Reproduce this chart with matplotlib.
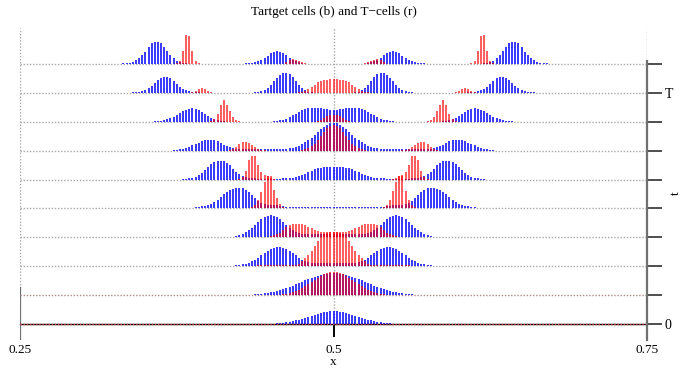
import numpy as np
import matplotlib.pyplot as plt

plt.rcParams['font.family'] = 'serif'
plt.rcParams['font.serif'] = ['Liberation Serif', 'DejaVu Serif']

# stems sit on a regular grid in x
grid_start = 0.33
grid_step = 0.0025
n_grid = 137

# target cells (blue), one list per time row, bottom (t=0) to top
b0 = [0] * 48 + [0.4, 0.5, 0.7, 1, 1.3, 1.8, 2.3, 2.9, 3.6, 4.4, 5.3, 6.3, 7.4, 8.4, 9.4, 10.4, 11.3, 12, 12.5, 12.9, 13,
                 12.9, 12.5, 12, 11.3, 10.4, 9.4, 8.4, 7.4, 6.3, 5.3, 4.4, 3.6, 2.9, 2.3, 1.8, 1.3, 1, 0.7, 0.5, 0.4]
b1 = [0] * 43 + [1.0, 1.2, 1.6, 2.0, 2.4, 3.0, 3.6, 4.4, 5.2, 6.1, 7.2, 8.3, 9.5, 10.7, 12.0, 13.4, 14.7, 16.0, 17.2,
                 18.4, 19.4, 20.3, 21.0, 21.6, 21.9, 22, 21.9, 21.6, 21.0, 20.3, 19.4, 18.4, 17.2, 16.0, 14.7, 13.4,
                 12.0, 10.7, 9.5, 8.3, 7.2, 6.1, 5.2, 4.4, 3.6, 3.0, 2.4, 2.0, 1.6, 1.2, 1.0]
b2 = [0] * 36 + [0.5, 1, 1.3, 2, 2.5, 3.5, 5, 6.5, 8.5, 11, 13, 15, 17, 18, 19, 19, 18.5, 17, 15.5, 13, 11, 8.5, 6.5, 5,
                 4, 3.5, 3.5, 3.5, 3.5, 3.5, 3.5, 3.5, 3.5, 3.5, 3.5, 3.5, 3.5, 3.5, 3.5, 3.5, 4, 5, 6.5, 8.5, 11, 13,
                 15.5, 17, 18.5, 19, 19, 18, 17, 15, 13, 11, 8.5, 6.5, 5, 3.5, 2.5, 2, 1.3, 1, 0.5]
b3 = [0] * 36 + [0.8, 1.4, 2.3, 3.5, 5.2, 7.3, 9.8, 12.6, 15.4, 18, 20.1, 21.5, 22, 21.5, 20.1, 18, 15.4, 12.6, 9.8,
                 7.3, 5.4, 4, 3.3, 3, 3, 3, 3, 3, 3, 3, 3, 3, 3, 3, 3, 3, 3, 3, 3, 3, 3, 3, 3.3, 4, 5.4, 7.3, 9.8,
                 12.6, 15.4, 18, 20.1, 21.5, 22, 21.5, 20.1, 18, 15.4, 12.6, 9.8, 7.3, 5.2, 3.5, 2.3, 1.4, 0.8]
b4 = [0] * 22 + [0.5, 0.8, 1, 1.5, 2, 2.5, 3.2, 4.5, 6, 8.5, 11, 14, 16.5, 18, 19, 20, 20.5, 20, 18.5, 16, 13, 10, 7,
                 5, 4, 3.5, 3, 3, 3, 2.5, 2, 1.5, 1, 1, 1, 1, 1, 1, 1, 1, 1, 1, 1, 1, 1, 1, 1, 1, 1, 1, 1, 1, 1, 1, 1,
                 1, 1, 1, 1, 1, 1, 1, 1.5, 2, 2.5, 3, 3, 3, 3.5, 4, 5, 7, 10, 13, 16, 18.5, 20, 20.5, 20, 19, 18, 16.5,
                 14, 11, 8.5, 6, 4.5, 3.2, 2.5, 2, 1.5, 1, 0.8, 0.5]
b5 = [0] * 20 + [0.5, 1, 1.5, 2, 3, 4.5, 7, 9.5, 12.5, 15.5, 17.5, 18.5, 19, 18.5, 17, 14.5, 11, 8, 5.5, 3.5, 2.5, 2,
                 1.5, 1.2, 1, 1, 1, 1, 1, 1, 1, 1, 1.2, 1.2, 1.5, 2, 2.6, 3.5, 4.6, 6, 7.5, 9, 10.3, 11.3, 12, 12.5,
                 12.8, 13, 13, 13, 12.8, 12.5, 12, 11.3, 10.3, 9, 7.5, 6, 4.6, 3.5, 2.6, 2, 1.5, 1.2, 1.2, 1, 1, 1, 1,
                 1, 1, 1, 1, 1.2, 1.5, 2, 2.5, 3.5, 5.5, 8, 11, 14.5, 17, 18.5, 19, 18.5, 17.5, 15.5, 12.5, 9.5, 7,
                 4.5, 3, 2, 1.5, 1, 0.5]
b6 = [0] * 17 + [0.7, 1, 1.5, 2, 3, 4, 5.2, 6.5, 8, 9.3, 10.3, 11, 11, 10.3, 9.3, 7.5, 5.8, 4.3, 3.2, 2.5, 2, 1.7, 1.5,
                 1.3, 1.2, 1.2, 1.2, 1.2, 1.2, 1.2, 1.2, 1.2, 1.2, 1.3, 1.5, 1.7, 2, 2.3, 2.8, 3.3, 4.5, 6.5, 8.5,
                 10.5, 13, 15.5, 18.5, 21.5, 24, 26, 27.5, 28, 27.5, 26, 24, 21.5, 18.5, 15.5, 13, 10.5, 8.5, 6.5, 4.5,
                 3.3, 2.8, 2.3, 2, 1.7, 1.5, 1.3, 1.2, 1.2, 1.2, 1.2, 1.2, 1.2, 1.2, 1.2, 1.2, 1.3, 1.5, 1.7, 2, 2.5,
                 3.2, 4.3, 5.8, 7.5, 9.3, 10.3, 11, 11, 10.3, 9.3, 8, 6.5, 5.2, 4, 3, 2, 1.5, 1, 0.7]
b7 = [0] * 11 + [0.5, 0.8, 1.2, 1.8, 2.6, 3.8, 5.2, 6.8, 8.6, 10.4, 12, 13, 13.3, 13, 11.5, 9.5, 7.5, 5.5, 3.8, 2.5,
                 1.6, 1, 0.6] + [0] * 15 + [0.5, 1, 1.3, 2, 3, 4.3, 6.5, 8, 10, 11.5, 12.7, 13.5, 14, 14, 13.7, 13.3,
                 12.8, 12.4, 12.2, 12.2, 12.2, 12.4, 12.8, 13.3, 13.7, 14, 14, 13.5, 12.7, 11.5, 10, 8, 6.5, 4.3, 3,
                 2, 1.3, 1, 0.5] + [0] * 15 + [0.6, 1, 1.6, 2.5, 3.8, 5.5, 7.5, 9.5, 11.5, 13, 13.3, 13, 12, 10.4,
                 8.6, 6.8, 5.2, 3.8, 2.6, 1.8, 1.2, 0.8, 0.5]
b8 = [0] * 4 + [0.5, 0.8, 1.2, 1.8, 3, 4.6, 7, 10, 12.8, 14.8, 15.8, 16, 14.5, 11.5, 8.5, 5.8, 3.8, 2.5, 1.7, 1.1, 0.7,
                0.4] + [0] * 17 + [0.5, 0.8, 1.5, 2.8, 5, 8, 11.5, 15, 18, 19.7, 20, 18.5, 15.5, 11.5, 7.5, 4.5, 2.5,
                1.2, 0.6] + [0] * 13 + [0.6, 1.2, 2.5, 4.5, 7.5, 11.5, 15.5, 18.5, 20, 19.7, 18, 15, 11.5, 8, 5, 2.8,
                1.5, 0.8, 0.5] + [0] * 17 + [0.4, 0.7, 1.1, 1.7, 2.5, 3.8, 5.8, 8.5, 11.5, 14.5, 16, 15.8, 14.8, 12.8,
                10, 7, 4.6, 3, 1.8, 1.2, 0.8, 0.5]
b9 = [0] * 1 + [0.5, 0.8, 1.2, 2, 3.5, 6, 8.5, 12, 17, 20.5, 22, 21.7, 20.5, 17, 12.5, 8.5, 5.5, 3.2, 2, 1.2, 0.7,
                0.4] + [0] * 17 + [0.5, 0.8, 1.2, 1.8, 2.8, 4.2, 6, 8.3, 10.5, 12, 12.5, 12.2, 11, 8.5, 6, 4, 2.5,
                1.5, 0.8, 0.4] + [0] * 18 + [0.4, 0.8, 1.5, 2.5, 4, 6, 8.5, 11, 12.2, 12.5, 12, 10.5, 8.3, 6, 4.2,
                2.8, 1.8, 1.2, 0.8, 0.5] + [0] * 17 + [0.4, 0.7, 1.2, 2, 3.2, 5.5, 8.5, 12.5, 17, 20.5, 21.7, 22,
                20.5, 17, 12, 8.5, 6, 3.5, 2, 1.2, 0.8, 0.5]

# T-cells (red)
r0 = []
r1 = [0] * 52 + [1.1, 1.6, 2.3, 3.1, 4.2, 5.5, 7.0, 8.8, 10.8, 12.9, 15.0, 17.1, 19.0, 20.7, 21.9, 22.7, 23, 22.7,
                 21.9, 20.7, 19.0, 17.1, 15.0, 12.9, 10.8, 8.8, 7.0, 5.5, 4.2, 3.1, 2.3, 1.6, 1.1]
r2 = [0] * 44 + [1, 1.5, 1.5, 1.5, 1.5, 1.5, 1.5, 1.5, 1.5, 1.5, 1.5, 1.5, 1.5, 2.5, 5, 8, 11, 15, 20, 25, 29, 32, 33,
                 34, 34, 34, 33, 32, 29, 25, 20, 15, 11, 8, 5, 2.5, 1.5, 1.5, 1.5, 1.5, 1.5, 1.5, 1.5, 1.5, 1.5, 1.5,
                 1.5, 1.5, 1]
r3 = [0] * 47 + [0.6, 1.2, 2, 3, 4.5, 7, 10, 12, 13, 13.5, 13.5, 13, 12, 10.5, 9, 7.5, 6.5, 5.5, 5, 5, 5, 5, 5, 5, 5,
                 5.5, 6.5, 7.5, 9, 10.5, 12, 13, 13.5, 13.5, 13, 12, 10, 7, 4.5, 3, 2, 1.2, 0.6]
r4 = [0] * 42 + [1, 3, 8, 16, 26, 32, 32, 18, 10, 4, 1.5, 0.5] + [0] * 30 + [1, 3, 8, 17, 26, 32, 32, 17, 8, 3, 1]
r5 = [0] * 38 + [1, 3, 9, 20, 24, 24, 15, 8, 5, 4, 2, 1] + [0] * 37 + [1, 2, 4, 5, 8, 15, 24, 24, 20, 9, 3, 1]
r6 = [0] * 35 + [0.5, 1.5, 3.5, 6.5, 8.5, 9, 8, 6, 3.5, 2, 1, 0.5] + [0] * 11 + [0.7, 1.4, 2.5, 4.3, 7, 10.4, 14.5,
                 18.7, 22.5, 25.1, 26, 25.1, 22.5, 18.7, 14.5, 10.4, 7, 4.3, 2.5, 1.4, 0.7] + [0] * 11 + [0.5, 1, 2,
                 3.5, 6, 8, 9, 8.5, 6.5, 3.5, 1.5, 0.5]
r7 = [0] * 29 + [1, 3, 8, 17, 21.5, 17, 11, 5, 2, 0.7] + [0] * 24 + [0.7, 2, 3.5, 5.5, 6.5, 7, 6.5, 5.5, 3.5, 2,
                 0.7] + [0] * 24 + [0.7, 2, 5, 11, 17, 21.5, 17, 8, 3, 1]
r8 = [0] * 23 + [0.5, 2, 4, 5, 3.5, 1.5, 0.5] + [0] * 27 + [0.5, 1.2, 2, 4, 6, 8, 10.5, 12, 13, 13.3, 13.5, 13.5,
                 13.5, 13.3, 13, 12, 10.5, 8, 6, 4, 2, 1.2, 0.5] + [0] * 27 + [0.5, 1.5, 3.5, 5, 4, 2, 0.5]
r9 = [0] * 18 + [0.5, 2.5, 13, 29, 28, 13, 3, 0.5] + [0] * 27 + [1.5, 3.5, 4.5, 4.3, 3, 1.7, 0.8, 0.3] + [0] * 16 + \
     [0.3, 0.8, 1.7, 3, 4.3, 4.5, 3.5, 1.5] + [0] * 27 + [0.5, 3, 13, 28, 29, 13, 2.5, 0.5]

blue_rows = [b0, b1, b2, b3, b4, b5, b6, b7, b8, b9]
red_rows = [r0, r1, r2, r3, r4, r5, r6, r7, r8, r9]
row_labels = ['0', '', '', '', '', '', '', '', 'T', '']


def full(vals):
    arr = np.zeros(n_grid)
    arr[:len(vals)] = vals
    return arr


x = grid_start + grid_step * np.arange(n_grid)
gap = 28.9  # vertical offset between time rows

fig = plt.figure(figsize=(6.82, 3.68), dpi=100)
ax = fig.add_axes([20 / 682, 28 / 368, 627 / 682, 312 / 368])
ax.set_xlim(0.25, 0.75)
ax.set_ylim(-16, 296)

grey = '#a8a8a8'
dots = (0, (1, 1.25))
ax.plot([0.5, 0.5], [0, 296], color=grey, ls=dots, lw=1)
ax.plot([0.25, 0.25], [36, 296], color=grey, ls=dots, lw=1)
ax.plot([0.75, 0.75], [263, 296], color=grey, ls=dots, lw=1)
ax.plot([0.25, 0.25], [-16, 36], color='#707070', lw=1.6)

for k in range(len(blue_rows) - 1, -1, -1):
    base = k * gap
    b = full(blue_rows[k])
    r = full(red_rows[k])
    if k == 0:
        bc = '#d04040'
    elif k == 1:
        bc = '#b08888'
    else:
        bc = grey
    ax.plot([0.25, 0.75], [base, base], color=bc, ls=dots, lw=1)
    m = b > 0
    ax.vlines(x[m], base, base + b[m], colors='#0000ff', lw=1.25, alpha=0.88)
    m = r > 0
    ax.vlines(x[m], base, base + r[m], colors='#ff0000', lw=1.25, alpha=0.72)

for s in ['left', 'top']:
    ax.spines[s].set_visible(False)
ax.spines['bottom'].set_position(('data', 0))
ax.spines['bottom'].set_color('black')
ax.spines['bottom'].set_linewidth(1.0)
ax.spines['bottom'].set_zorder(1)
ax.spines['right'].set_bounds(-16, 263)
ax.spines['right'].set_color('#707070')
ax.spines['right'].set_linewidth(1.6)

ax.set_xticks([0.25, 0.5, 0.75])
ax.set_xticklabels(['0.25', '0.5', '0.75'])
ax.tick_params(axis='x', direction='out', length=9.4, width=1.4, color='black', pad=5, labelsize=9.5)
ticks = ax.xaxis.get_major_ticks()
ticks[0].tick1line.set_visible(False)
ticks[2].tick1line.set_visible(False)

ax.yaxis.tick_right()
ax.set_yticks([k * gap for k in range(len(row_labels))])
ax.set_yticklabels(row_labels)
ax.tick_params(axis='y', direction='out', length=10.8, width=1.3, color='#404040', pad=2, labelsize=10)

ax.text(0.5, -38, 'x', ha='center', va='center', fontsize=9.5, clip_on=False)
fig.text(334 / 682, 1 - 12 / 368, 'Tartget cells (b) and T\u2212cells (r)', ha='center', va='center', fontsize=9.5)
fig.text(676 / 682, 1 - 193 / 368, 't', rotation=90, ha='center', va='center', fontsize=9.5)

fig.savefig('out.png', dpi=100)
